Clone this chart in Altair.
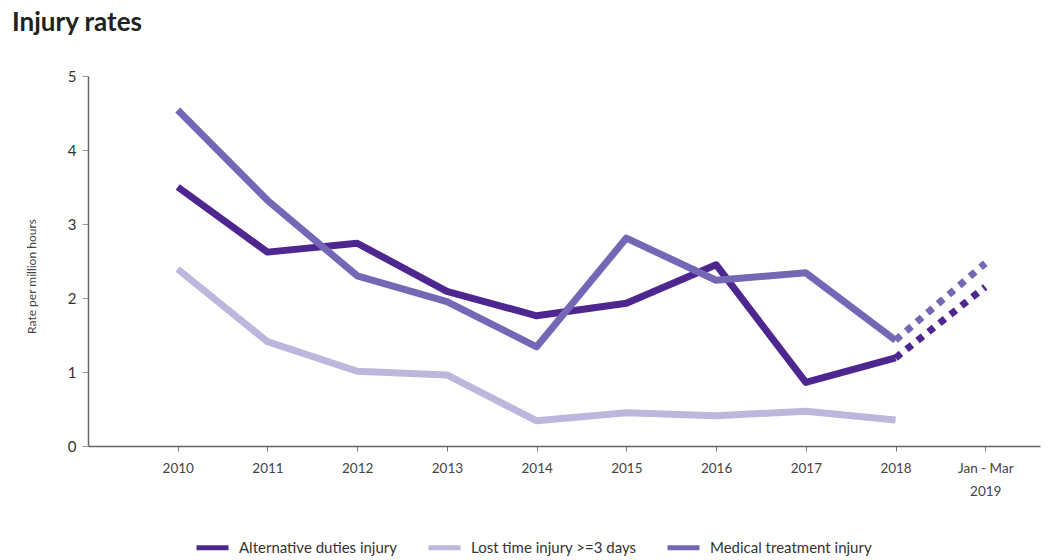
import altair as alt
import pandas as pd

periods = ["2010", "2011", "2012", "2013", "2014", "2015", "2016", "2017", "2018", "Jan - Mar|2019"]
series_names = ["Alternative duties injury", "Lost time injury >=3 days", "Medical treatment injury"]
alt_duties = [3.50, 2.62, 2.74, 2.09, 1.76, 1.93, 2.45, 0.86, 1.19, 2.15]
lost_time = [2.39, 1.41, 1.01, 0.96, 0.34, 0.45, 0.41, 0.47, 0.35, None]
medical = [4.54, 3.32, 2.30, 1.95, 1.34, 2.81, 2.24, 2.34, 1.43, 2.47]
colors = ["#4d2690", "#bcb7dd", "#7667b6"]

rows = []
for name, vals in zip(series_names, [alt_duties, lost_time, medical]):
    for i, (p, v) in enumerate(zip(periods, vals)):
        if v is None:
            continue
        part = "solid" if i <= 8 else "dotted"
        rows.append({"series": name, "idx": i, "period": p, "value": v, "part": part})
        if i == 8:
            rows.append({"series": name, "idx": i, "period": p, "value": v, "part": "dotted_start"})
df = pd.DataFrame(rows)
solid = df[df["part"] == "solid"]
dotted_src = df[df["part"] != "solid"]
has_q = set(dotted_src[dotted_src["part"] == "dotted"]["series"])
dotted = dotted_src[dotted_src["series"].isin(has_q)]

label_arr = "[" + ",".join("'" + p + "'" for p in periods) + "]"

x = alt.X("idx:Q",
          scale=alt.Scale(domain=[-1, 9.61], nice=False, zero=False),
          axis=alt.Axis(values=list(range(len(periods))), title=None, grid=False,
                        labelExpr=f"split({label_arr}[datum.value], '|')",
                        labelFont="Lato", labelFontSize=13.5, labelColor="#444",
                        labelPadding=10, tickSize=5, tickColor="#777",
                        domainColor="#666", domainWidth=1.5, labelLineHeight=23))
y = alt.Y("value:Q",
          scale=alt.Scale(domain=[0, 5], nice=False),
          axis=alt.Axis(values=[0, 1, 2, 3, 4, 5], title="Rate per million hours", grid=False,
                        labelFont="Lato", labelFontSize=15, labelColor="#333",
                        labelPadding=6, tickSize=6, tickColor="#999",
                        domainColor="#666", domainWidth=1.5,
                        titleFont="Lato", titleFontSize=12, titleFontWeight="normal",
                        titleColor="#444", titlePadding=29, titleY=200))
color = alt.Color("series:N",
                  scale=alt.Scale(domain=series_names, range=colors),
                  legend=alt.Legend(title=None, orient="none", legendX=106, legendY=453,
                                    direction="horizontal", symbolType="stroke",
                                    symbolStrokeWidth=5, symbolSize=1024,
                                    labelFont="Lato", labelFontSize=15, labelColor="#333",
                                    labelLimit=400, columnPadding=20, labelOffset=8))

solid_layer = alt.Chart(solid).mark_line(strokeWidth=7, strokeJoin="round", strokeCap="butt").encode(
    x=x, y=y, color=color, detail="series:N")
dotted_layer = alt.Chart(dotted).mark_line(strokeWidth=7, strokeDash=[7, 7], strokeCap="butt").encode(
    x=x, y=y, color=alt.Color("series:N", scale=alt.Scale(domain=series_names, range=colors), legend=None),
    detail="series:N")

chart = alt.layer(solid_layer, dotted_layer).properties(
    width=952, height=370,
    background="white",
    autosize=alt.AutoSizeParams(type="none"),
    padding={"left": 88, "top": 76, "right": 11, "bottom": 114},
    title=alt.TitleParams("Injury rates", anchor="start", frame="group", font="Lato",
                          fontSize=26, fontWeight="bold", color="#222", dx=-76, offset=33),
).configure_view(stroke=None, strokeWidth=0)

chart.save("out.html", embed_options={"renderer": "svg", "actions": False})
